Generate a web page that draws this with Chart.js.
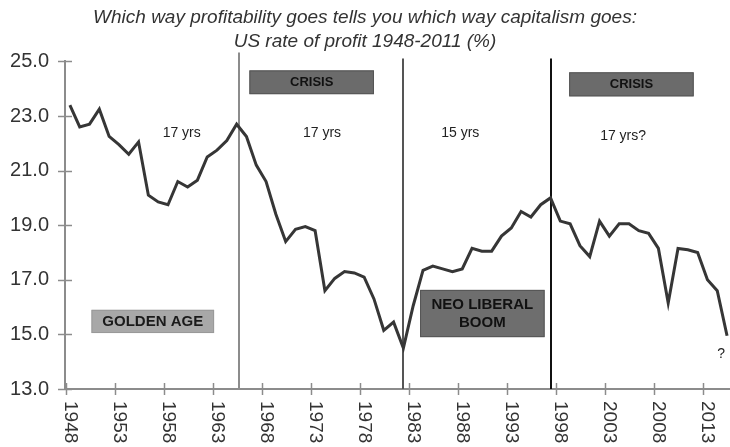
<!DOCTYPE html>
<html>
<head>
<meta charset="utf-8">
<script src="https://cdn.jsdelivr.net/npm/chart.js@4"></script>
<style>
  html, body { margin: 0; padding: 0; background: #fff; }
  #wrap { width: 730px; height: 447px; }
</style>
</head>
<body>
<div id="wrap"><canvas id="chart"></canvas></div>
<script>
const years = [1948, 1949, 1950, 1951, 1952, 1953, 1954, 1955, 1956, 1957,
  1958, 1959, 1960, 1961, 1962, 1963, 1964, 1965, 1966, 1967,
  1968, 1969, 1970, 1971, 1972, 1973, 1974, 1975, 1976, 1977,
  1978, 1979, 1980, 1981, 1982, 1983, 1984, 1985, 1986, 1987,
  1988, 1989, 1990, 1991, 1992, 1993, 1994, 1995, 1996, 1997,
  1998, 1999, 2000, 2001, 2002, 2003, 2004, 2005, 2006, 2007,
  2008, 2009, 2010, 2011, 2012, 2013, 2014, 2015];
const profitRate = [23.4, 22.6, 22.7, 23.25, 22.25, 21.95, 21.6, 22.05, 20.1, 19.85,
  19.75, 20.6, 20.4, 20.65, 21.5, 21.75, 22.1, 22.7, 22.25, 21.2,
  20.6, 19.4, 18.4, 18.85, 18.95, 18.8, 16.6, 17.05, 17.3, 17.25,
  17.1, 16.3, 15.15, 15.45, 14.5, 16.05, 17.35, 17.5, 17.4, 17.3,
  17.4, 18.15, 18.05, 18.05, 18.6, 18.9, 19.5, 19.3, 19.75, 20.0,
  19.15, 19.05, 18.25, 17.85, 19.15, 18.6, 19.05, 19.05, 18.8, 18.7,
  18.15, 16.15, 18.15, 18.1, 18.0, 17.0, 16.6, 14.95];
const tickYears = [1948, 1953, 1958, 1963, 1968, 1973, 1978, 1983, 1988, 1993, 1998, 2003, 2008, 2013];
const turningYears = [1965.2, 1982, 1997];
const periodNotes = ['17 yrs', '17 yrs', '15 yrs', '17 yrs?'];
const noteYears = [1959.4, 1973.7, 1987.8, 2004.4];
const boxLabels = ['CRISIS', 'CRISIS', 'GOLDEN AGE', 'NEO LIBERAL|BOOM'];

const FONT = "'Liberation Sans', Arial, sans-serif";

// annotation geometry in data units: [x0, x1, yTop, yBottom]
const boxSpots = [
  [1966.3, 1979.0, 24.67, 23.8],
  [1998.9, 2011.6, 24.6, 23.72],
  [1950.2, 1962.7, 15.9, 15.05],
  [1983.7, 1996.4, 16.63, 14.9]
];
const boxFills = ['#6b6b6b', '#6b6b6b', '#a8a8a8', '#6e6e6e'];

const overlay = {
  id: 'overlay',
  beforeDatasetsDraw(chart) {
    const { ctx, chartArea: a, scales: { x } } = chart;
    const cols = ['#8c8c8c', '#555', '#111'];
    ctx.save();
    turningYears.forEach((yr, i) => {
      const px = Math.round(x.getPixelForValue(yr));
      ctx.strokeStyle = cols[i];
      ctx.lineWidth = 2;
      ctx.beginPath();
      ctx.moveTo(px, a.top - (i === 0 ? 9 : 3));
      ctx.lineTo(px, a.bottom);
      ctx.stroke();
    });
    ctx.restore();
  },
  afterDraw(chart) {
    const { ctx, chartArea: a, scales: { x, y } } = chart;
    ctx.save();
    // tick marks crossing the axes
    ctx.strokeStyle = '#8c8c8c';
    ctx.lineWidth = 1.5;
    y.ticks.forEach(t => {
      const py = Math.round(y.getPixelForValue(t.value)) + 0.5;
      ctx.beginPath();
      ctx.moveTo(a.left - 7, py);
      ctx.lineTo(a.left + 7, py);
      ctx.stroke();
    });
    tickYears.forEach(yr => {
      const px = Math.round(x.getPixelForValue(yr) - 4) + 0.5;
      ctx.beginPath();
      ctx.moveTo(px, a.bottom - 6);
      ctx.lineTo(px, a.bottom + 6);
      ctx.stroke();
    });
    // rotated year labels
    ctx.fillStyle = '#333';
    ctx.font = '19px ' + FONT;
    ctx.textAlign = 'left';
    ctx.textBaseline = 'middle';
    tickYears.forEach(yr => {
      ctx.save();
      ctx.translate(x.getPixelForValue(yr), a.bottom + 12);
      ctx.rotate(Math.PI / 2);
      ctx.fillText(String(yr), 0, 0);
      ctx.restore();
    });
    // period notes
    ctx.font = '14px ' + FONT;
    ctx.fillStyle = '#222';
    ctx.textAlign = 'center';
    periodNotes.forEach((t, i) => {
      ctx.fillText(t, x.getPixelForValue(noteYears[i]), y.getPixelForValue(i === 3 ? 22.25 : 22.38));
    });
    ctx.fillText('?', x.getPixelForValue(2014.4), y.getPixelForValue(14.28));
    // labelled boxes
    boxLabels.forEach((lbl, i) => {
      const [x0, x1, yt, yb] = boxSpots[i];
      const l = x.getPixelForValue(x0), r = x.getPixelForValue(x1);
      const t = y.getPixelForValue(yt), b = y.getPixelForValue(yb);
      ctx.fillStyle = boxFills[i];
      ctx.fillRect(l, t, r - l, b - t);
      ctx.strokeStyle = i === 2 ? '#999' : '#555';
      ctx.lineWidth = 1;
      ctx.strokeRect(l + 0.5, t + 0.5, r - l - 1, b - t - 1);
      const lines = lbl.split('|');
      ctx.fillStyle = i === 2 ? '#1a1a1a' : '#111';
      ctx.font = 'bold ' + (i < 2 ? 13 : 15) + 'px ' + FONT;
      const cx = (l + r) / 2, cy = (t + b) / 2;
      const lh = 18;
      lines.forEach((s, k) => {
        ctx.fillText(s, cx, cy + (k - (lines.length - 1) / 2) * lh);
      });
    });
    ctx.restore();
  }
};

new Chart(document.getElementById('chart'), {
  type: 'line',
  data: {
    datasets: [{
      data: years.map((yr, i) => ({ x: yr, y: profitRate[i] })),
      borderColor: '#363636',
      borderWidth: 3,
      pointRadius: 0,
      tension: 0,
      fill: false
    }]
  },
  options: {
    responsive: true,
    maintainAspectRatio: false,
    animation: false,
    layout: { padding: { left: 0, right: 0, top: 0, bottom: 58 } },
    plugins: {
      legend: { display: false },
      tooltip: { enabled: false },
      title: {
        display: true,
        text: ['Which way profitability goes tells you which way capitalism goes:', 'US rate of profit 1948-2011 (%)'],
        color: '#333',
        font: { family: FONT, size: 19, style: 'italic', weight: 'normal', lineHeight: 1.3 },
        padding: { top: 5, bottom: 7 }
      }
    },
    scales: {
      x: {
        type: 'linear',
        min: 1947.5,
        max: 2015.3,
        ticks: { display: false },
        grid: { drawOnChartArea: false, drawTicks: false },
        border: { color: '#8c8c8c', width: 2 }
      },
      y: {
        min: 13,
        max: 25,
        afterFit: s => { s.width = 65; },
        ticks: {
          stepSize: 2,
          padding: 16,
          color: '#333',
          font: { family: FONT, size: 20 },
          callback: v => v.toFixed(1)
        },
        grid: { drawOnChartArea: false, drawTicks: false },
        border: { color: '#8c8c8c', width: 2 }
      }
    }
  },
  plugins: [overlay]
});
</script>
</body>
</html>
